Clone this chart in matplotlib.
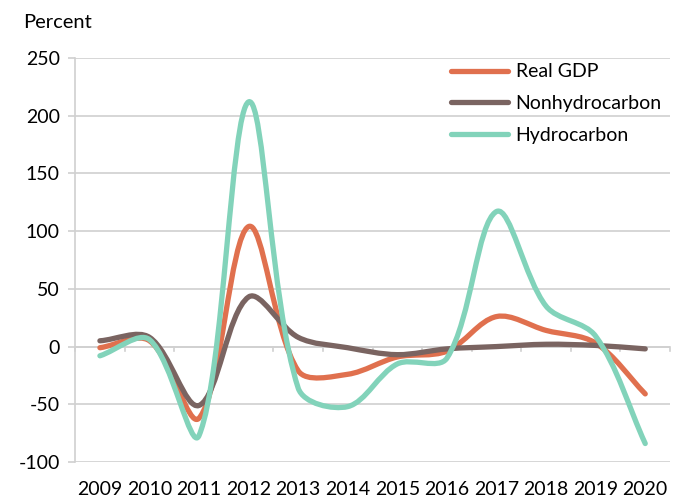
import numpy as np
import matplotlib.pyplot as plt
from matplotlib.path import Path
from matplotlib.patches import PathPatch
from matplotlib.lines import Line2D

plt.rcParams['font.family'] = ['Lato', 'DejaVu Sans']
plt.rcParams['axes.unicode_minus'] = False

# data
years = ['2009', '2010', '2011', '2012', '2013', '2014', '2015', '2016',
         '2017', '2018', '2019', '2020']
real_gdp = [-1, 5, -62, 104, -21, -24, -9, -4, 26, 14, 3, -41]
nonhydro = [5, 8, -51, 43, 8, -1, -7, -2, 0, 2, 1, -2]
hydro = [-8, 6, -77, 212, -36, -52, -15, -10, 117, 35, 9, -84]

series = [("Real GDP", real_gdp, "#E0704E"),
          ("Nonhydrocarbon", nonhydro, "#7A6461"),
          ("Hydrocarbon", hydro, "#82D3BA")]


def smooth_path(ax, xs, ys):
    # Excel-like smoothed line: cubic Bezier segments, handles scaled by
    # screen-space segment lengths so short segments don't overshoot
    pts = np.column_stack([xs, ys]).astype(float)
    scr = ax.transData.transform(pts)
    n = len(pts)

    def handle(i, forward):
        a = max(i - 1, 0)
        b = min(i + 1, n - 1)
        d_prev = np.hypot(*(scr[i] - scr[a]))
        d_next = np.hypot(*(scr[b] - scr[i]))
        d = d_next if forward else d_prev
        sign = 1 if forward else -1
        return pts[i] + sign * (pts[b] - pts[a]) * d / (d_prev + d_next) / 3.0

    verts = [pts[0]]
    codes = [Path.MOVETO]
    for i in range(n - 1):
        verts += [handle(i, True), handle(i + 1, False), pts[i + 1]]
        codes += [Path.CURVE4] * 3
    return Path(verts, codes)


fig = plt.figure(figsize=(6.83, 5), dpi=100)
ax = fig.add_axes([0.11, 0.076, 0.871, 0.808])

x = np.arange(len(years))
ax.set_xlim(-0.5, len(years) - 0.5)
ax.set_ylim(-100, 250)

handles = []
for name, vals, col in series:
    patch = PathPatch(smooth_path(ax, x, vals), facecolor='none', edgecolor=col,
                      lw=3.8, capstyle='round', joinstyle='round', zorder=3)
    ax.add_patch(patch)
    handles.append(Line2D([], [], color=col, lw=3.8, solid_capstyle='round'))

ax.set_yticks(range(-100, 251, 50))
ax.grid(axis='y', color='#D0D0D0', lw=1.2)
ax.set_axisbelow(True)

for s in ['top', 'right', 'bottom']:
    ax.spines[s].set_visible(False)
ax.spines['left'].set_color('#D0D0D0')
ax.spines['left'].set_linewidth(1.2)

# category axis crossing at zero with boundary ticks
ax.axhline(0, color='#D0D0D0', lw=1.2, zorder=1)
for b in np.arange(-0.5, len(years) - 0.4, 1):
    ax.plot([b, b], [0, -4], color='#D0D0D0', lw=1.2, zorder=1, clip_on=False)

ax.set_xticks(x)
ax.set_xticklabels(years)
ax.tick_params(axis='x', length=0, pad=14, labelsize=14)
ax.tick_params(axis='y', length=5, color='#D0D0D0', width=1.2, labelsize=14, pad=6)

fig.text(0.034, 0.955, "Percent", fontsize=14.5, va='center')

ax.legend(handles, [s[0] for s in series], loc='upper left',
          bbox_to_anchor=(0.603, 1.03), frameon=False, fontsize=14,
          handlelength=2.9, handletextpad=0.4, labelspacing=0.75)

fig.savefig('out.png', dpi=100)
